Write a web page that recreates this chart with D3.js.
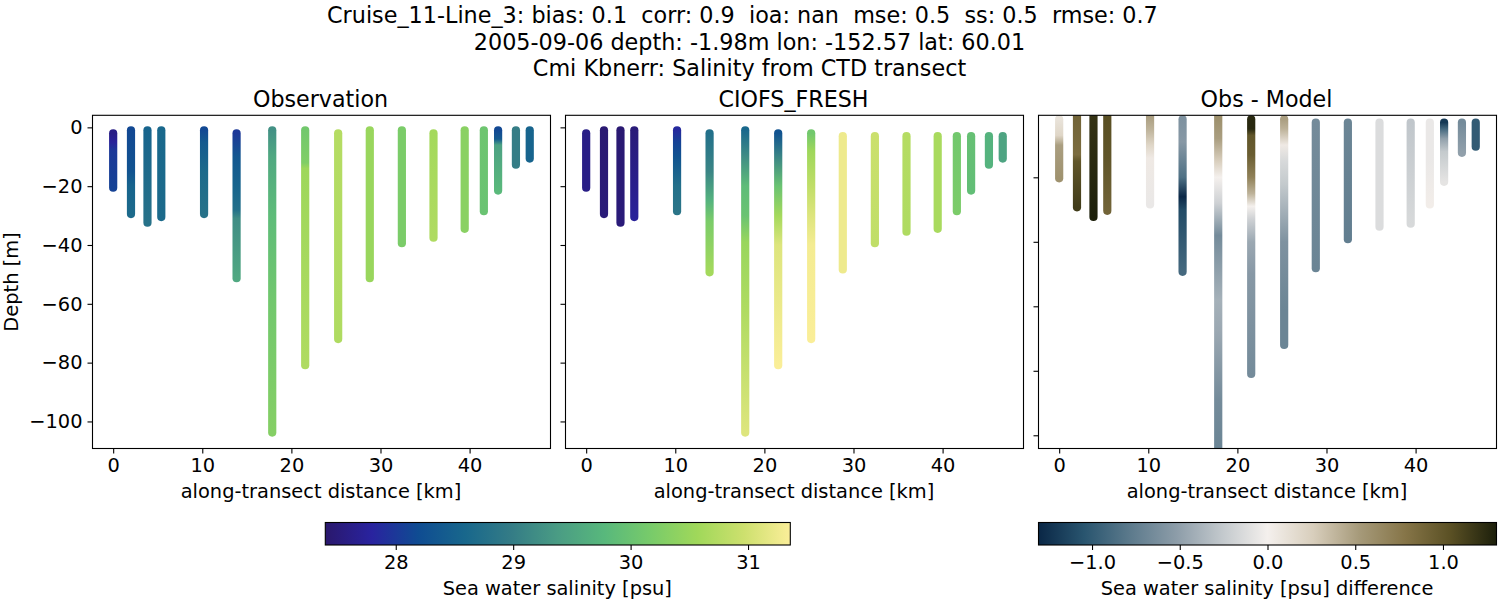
<!DOCTYPE html>
<html>
<head>
<meta charset="utf-8">
<script src="https://cdn.jsdelivr.net/npm/d3@7"></script>
<style>
  body { margin: 0; background: #fff; }
  text { font-family: "DejaVu Sans", sans-serif; fill: #000; }
</style>
</head>
<body>
<svg id="chart" width="1500" height="600"></svg>
<script>
// Station positions along the transect [km]
var stationKm = [0, 2.0, 3.85, 5.4, 10.2, 13.85, 17.85, 21.55, 25.25, 28.8, 32.4, 35.95, 39.45, 41.6, 43.2, 45.2, 46.75];

// Observation: depth [m] and salinity [psu] read at a few depths per station
var obsDepth = [
  [-2, -5, -8, -20.5], [-1, -15, -20, -29.5], [-1, -32.4], [-1, -30.5], [-1, -5, -15, -29.5],
  [-2, -10, -20, -28, -31, -51.3], [-1, -10, -30, -60, -103.8], [-1, -12, -14, -80.9],
  [-2, -72], [-1, -51.3], [-1, -39.4], [-2, -37.5], [-1, -34.5], [-1, -28.5], [-1, -4, -6, -21.5], [-1, -12.7], [-1, -10.6]
];
var obsSal = [
  [27.6, 27.75, 28.0, 28.1], [28.15, 28.3, 28.55, 28.65], [28.55, 28.8], [28.6, 28.65], [28.15, 28.4, 28.65, 28.8],
  [28.0, 28.35, 28.55, 28.75, 29.2, 29.55], [29.25, 29.55, 29.85, 30.1, 30.3], [30.1, 30.25, 30.55, 30.7],
  [30.75, 30.7], [30.5, 30.5], [30.2, 30.2], [30.6, 30.7], [30.35, 30.35], [30.05, 30.0], [28.15, 28.4, 29.45, 29.8], [29.0, 29.0], [28.55, 28.55]
];

// CIOFS_FRESH model
var modelDepth = [
  [-2, -20.5], [-1, -29.5], [-1, -32.4], [-1, -20, -30.5], [-1, -5, -10, -20, -28.5],
  [-2, -15, -25, -32, -49.3], [-1, -10, -20, -30, -39, -62, -103.8], [-2, -10, -20, -30, -40, -80.9],
  [-2, -8, -20, -30, -40, -72], [-3, -48.3], [-3, -39.4], [-3, -35.5], [-3, -34.5], [-3, -28.5], [-3, -21.5], [-3, -12.7], [-3, -10.6]
];
var modelSal = [
  [27.6, 27.6], [27.45, 27.5], [27.45, 27.5], [27.5, 27.65, 27.75], [27.85, 28.1, 28.3, 28.75, 28.85],
  [28.75, 29.1, 29.7, 30.2, 30.6], [28.6, 29.2, 29.85, 30.0, 30.5, 30.7, 31.1], [28.3, 29.1, 30.0, 30.6, 31.1, 31.35],
  [30.1, 30.55, 30.85, 31.1, 31.3, 31.35], [31.25, 31.25], [30.95, 30.85], [30.75, 30.7], [30.65, 30.65], [30.1, 30.2], [29.95, 29.9], [29.7, 29.7], [29.5, 29.5]
];

// Obs - Model difference
var diffDepth = [
  [-2, -7, -9, -10, -20.3], [-1, -13, -15, -29.3], [-1, -32.3], [-1, -15, -30.4], [-1, -5, -10, -14, -28.4],
  [-2, -9, -20, -26, -30, -49.3], [-1, -8, -15, -20, -28, -38, -58, -68, -89, -104], [-2, -5, -7, -13, -20, -25, -29, -33, -40, -50, -81],
  [-2, -5, -10, -15, -22, -30, -40, -61, -72], [-3, -48.2], [-3, -39.2], [-3, -35.3], [-3, -34.4], [-3, -14, -28.4], [-3, -5, -8, -12, -21.4], [-3, -12.4], [-3, -10.5]
];
var diffVal = [
  [0.1, 0.2, 0.4, 0.5, 0.58], [0.9, 0.85, 1.0, 1.15], [1.2, 1.3], [1.05, 1.0, 0.9], [0.5, 0.4, 0.2, 0.05, -0.05],
  [-0.6, -0.55, -0.85, -1.3, -1.1, -0.9], [0.6, 0.5, 0.25, 0.0, -0.2, -0.65, -0.4, -0.45, -0.65, -0.7], [1.25, 1.25, 1.0, 0.95, 0.7, 0.4, 0.0, -0.2, -0.45, -0.55, -0.65],
  [0.5, 0.4, 0.05, -0.15, -0.25, -0.4, -0.6, -0.7, -0.7], [-0.65, -0.7], [-0.7, -0.75], [-0.13, -0.13], [-0.27, -0.15], [-0.05, -0.05, 0.02], [-1.2, -0.9, -0.5, -0.25, -0.08], [-0.65, -0.5], [-1.0, -1.0]
];

// Colour maps (haline and diff)
var halineColors = ["#2a186c", "#29239f", "#0f4c92", "#18678c", "#347c86", "#4a9c84", "#58b87c", "#78cb6a", "#a0d85a", "#cde06e", "#fbee99"];
var diffColors = ["#0a2746", "#29556f", "#5c7a8c", "#8c9ca8", "#c2c8cc", "#f4f0ed", "#d8cebc", "#a69a7a", "#867548", "#5a5024", "#1c1f0b"];

var salMin = 27.4, salMax = 31.36, diffMax = 1.305;

var salColor = d3.scaleLinear()
  .domain(halineColors.map((c, i) => salMin + (salMax - salMin) * i / (halineColors.length - 1)))
  .range(halineColors);
var diffColor = d3.scaleLinear()
  .domain(diffColors.map((c, i) => -diffMax + 2 * diffMax * i / (diffColors.length - 1)))
  .range(diffColors);

var svg = d3.select("#chart");
var defs = svg.append("defs");
var fmt = d3.format("d");
var minus = d => fmt(d).replace("-", "\u2212");

// x domain of each panel comes from tick 0 at 20.4px from the left spine
var xDomain = [-2.32, 49.08];
var axTop = 115.3, axBottom = 448.5;
var panels = [
  {id: "obs", left: 92.5, right: 550.5, title: "Observation", depth: obsDepth, vals: obsSal, color: salColor,
   yDomain: [-109.2, 4.1], yTicks: [-100, -80, -60, -40, -20, 0], labels: true},
  {id: "model", left: 565.5, right: 1023.5, title: "CIOFS_FRESH", depth: modelDepth, vals: modelSal, color: salColor,
   yDomain: [-109.2, 4.1], yTicks: [-100, -80, -60, -40, -20, 0], labels: false},
  {id: "diff", left: 1038.5, right: 1496.5, title: "Obs - Model", depth: diffDepth, vals: diffVal, color: diffColor,
   yDomain: [-104.1, -0.77], yTicks: [-100, -80, -60, -40, -20], labels: false}
];

function drawPanel(p) {
  var x = d3.scaleLinear().domain(xDomain).range([p.left, p.right]);
  var y = d3.scaleLinear().domain(p.yDomain).range([axBottom, axTop]);

  defs.append("clipPath").attr("id", "clip-" + p.id)
    .append("rect").attr("x", p.left).attr("y", axTop)
    .attr("width", p.right - p.left).attr("height", axBottom - axTop);

  var g = svg.append("g").attr("clip-path", "url(#clip-" + p.id + ")");

  stationKm.forEach(function(km, i) {
    var depths = p.depth[i], vals = p.vals[i];
    var y0 = y(depths[0]), y1 = y(depths[depths.length - 1]);
    var gradId = "grad-" + p.id + "-" + i;
    var grad = defs.append("linearGradient").attr("id", gradId)
      .attr("gradientUnits", "userSpaceOnUse")
      .attr("x1", 0).attr("x2", 0).attr("y1", y0).attr("y2", y1);
    depths.forEach(function(d, j) {
      grad.append("stop")
        .attr("offset", (y(d) - y0) / (y1 - y0))
        .attr("stop-color", p.color(vals[j]));
    });
    g.append("line")
      .attr("x1", x(km)).attr("x2", x(km)).attr("y1", y0).attr("y2", y1)
      .attr("stroke", "url(#" + gradId + ")")
      .attr("stroke-width", 8.2)
      .attr("stroke-linecap", "round");
  });

  // axes
  var xAxis = d3.axisBottom(x).tickValues([0, 10, 20, 30, 40]).tickFormat(fmt).tickSize(5).tickPadding(5);
  var gx = svg.append("g").attr("transform", "translate(0," + axBottom + ")").call(xAxis);
  var yAxis = d3.axisLeft(y).tickValues(p.yTicks).tickSize(5).tickPadding(5)
    .tickFormat(p.labels ? minus : "");
  var gy = svg.append("g").attr("transform", "translate(" + p.left + ",0)").call(yAxis);
  [gx, gy].forEach(function(a) {
    a.select(".domain").remove();
    a.selectAll("line").attr("stroke", "#000").attr("stroke-width", 1.1);
    a.selectAll("text").attr("font-size", 19.4).style("font-family", '"DejaVu Sans"');
  });

  svg.append("rect").attr("x", p.left).attr("y", axTop)
    .attr("width", p.right - p.left).attr("height", axBottom - axTop)
    .attr("fill", "none").attr("stroke", "#000").attr("stroke-width", 1.1);

  svg.append("text").attr("x", (p.left + p.right) / 2 - 1).attr("y", 107)
    .attr("text-anchor", "middle").attr("font-size", 22.2).text(p.title);
  svg.append("text").attr("x", (p.left + p.right) / 2 - 0.5).attr("y", 498)
    .attr("text-anchor", "middle").attr("font-size", 19.4).text("along-transect distance [km]");
}
panels.forEach(drawPanel);

svg.append("text").attr("transform", "translate(18,282) rotate(-90)")
  .attr("text-anchor", "middle").attr("font-size", 19.4).text("Depth [m]");

// figure title, the first line keeps its two trailing spaces
var titleLines = [
  "Cruise_11-Line_3: bias: 0.1  corr: 0.9  ioa: nan  mse: 0.5  ss: 0.5  rmse: 0.7  ",
  "2005-09-06 depth: -1.98m lon: -152.57 lat: 60.01",
  "Cmi Kbnerr: Salinity from CTD transect"
];
titleLines.forEach(function(t, i) {
  svg.append("text").attr("x", 749.5).attr("y", 23 + i * 26.5)
    .attr("text-anchor", "middle").attr("font-size", 22.3)
    .attr("xml:space", "preserve").style("white-space", "pre").text(t);
});

// colour bars
function drawColorbar(id, left, right, domain, color, ticks, tickFormat, label) {
  var cbTop = 522.5, cbBottom = 545;
  var x = d3.scaleLinear().domain(domain).range([left, right]);
  var grad = defs.append("linearGradient").attr("id", id);
  color.domain().forEach(function(v, i) {
    grad.append("stop").attr("offset", (x(v) - left) / (right - left)).attr("stop-color", color.range()[i]);
  });
  svg.append("rect").attr("x", left).attr("y", cbTop)
    .attr("width", right - left).attr("height", cbBottom - cbTop)
    .attr("fill", "url(#" + id + ")").attr("stroke", "#000").attr("stroke-width", 1.1);
  var axis = d3.axisBottom(x).tickValues(ticks).tickFormat(tickFormat).tickSize(5).tickPadding(5);
  var g = svg.append("g").attr("transform", "translate(0," + cbBottom + ")").call(axis);
  g.select(".domain").remove();
  g.selectAll("line").attr("stroke", "#000").attr("stroke-width", 1.1);
  g.selectAll("text").attr("font-size", 19.4).style("font-family", '"DejaVu Sans"');
  svg.append("text").attr("x", (left + right) / 2 - 0.5).attr("y", 595)
    .attr("text-anchor", "middle").attr("font-size", 19.4).text(label);
}
drawColorbar("cb-sal", 325.3, 790.3, [salMin, salMax], salColor, [28, 29, 30, 31], fmt, "Sea water salinity [psu]");
drawColorbar("cb-diff", 1038.5, 1496.5, [-diffMax, diffMax], diffColor, [-1, -0.5, 0, 0.5, 1],
  d => d3.format(".1f")(d).replace("-", "\u2212"), "Sea water salinity [psu] difference");
</script>
</body>
</html>
